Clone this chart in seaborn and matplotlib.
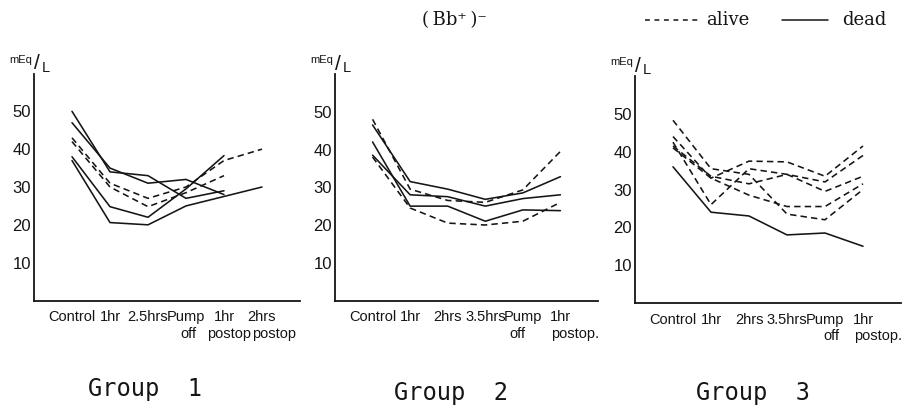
import numpy as np
import pandas as pd
import matplotlib
matplotlib.use("Agg")
import matplotlib.pyplot as plt
from matplotlib.lines import Line2D
import matplotlib.transforms as mtransforms
import seaborn as sns

# ---- time points on the x axis -------------------------------------------
g1_times = ["Control", "1hr", "2.5hrs", "Pump\noff", "1hr\npostop", "2hrs\npostop"]
g23_times = ["Control", "1hr", "2hrs", "3.5hrs", "Pump\noff", "1hr\npostop."]

# ---- (Bb+)- in mEq/L per patient ------------------------------------------
nan = np.nan
g1_dead_a = [50, 34, 33, 27, 29, nan]
g1_dead_b = [47, 35, 31, 32, 28, nan]
g1_dead_c = [38, 24.8, 22, 29.5, 38.3, nan]
g1_dead_d = [37, 20.6, 20, 25, 27.5, 30]
g1_alive_a = [43, 31, 27, 30, 37, 40]
g1_alive_b = [42, 30, 24.8, 28.5, 33, nan]

g2_dead_a = [46.5, 31.5, 29.5, 26.8, 28.5, 32.8]
g2_dead_b = [42, 25, 25, 21, 24, 23.8]
g2_dead_c = [38.5, 28, 27.5, 25, 27, 28]
g2_alive_a = [48, 29.5, 26.5, 26, 29.3, 39.5]
g2_alive_b = [38, 24.5, 20.5, 20, 21, 26]

g3_dead_a = [36, 24, 23, 18, 18.5, 15]
g3_alive_a = [48.3, 35.5, 34, 23.5, 22, 30]
g3_alive_b = [44, 33, 37.5, 37.3, 33.5, 41.5]
g3_alive_c = [42.5, 26, 35.5, 34, 32, 39]
g3_alive_d = [41.5, 33.5, 31.5, 34, 29.5, 33.5]
g3_alive_e = [41, 33, 28.5, 25.5, 25.5, 31.5]

y_ticks = [10, 20, 30, 40, 50]
group_titles = ["Group  1", "Group  2", "Group  3"]

groups = [
    (g1_times, {"d1": ("dead", g1_dead_a), "d2": ("dead", g1_dead_b),
                "d3": ("dead", g1_dead_c), "d4": ("dead", g1_dead_d),
                "a1": ("alive", g1_alive_a), "a2": ("alive", g1_alive_b)}),
    (g23_times, {"d1": ("dead", g2_dead_a), "d2": ("dead", g2_dead_b),
                 "d3": ("dead", g2_dead_c),
                 "a1": ("alive", g2_alive_a), "a2": ("alive", g2_alive_b)}),
    (g23_times, {"d1": ("dead", g3_dead_a),
                 "a1": ("alive", g3_alive_a), "a2": ("alive", g3_alive_b),
                 "a3": ("alive", g3_alive_c), "a4": ("alive", g3_alive_d),
                 "a5": ("alive", g3_alive_e)}),
]

sns.set_theme(style="white")
plt.rcParams["font.family"] = ["Liberation Sans", "DejaVu Sans"]

W, H = 905, 411
fig = plt.figure(figsize=(W / 100, H / 100), dpi=100)
fig.patch.set_facecolor("white")

def px_rect(left, top, right, bottom):
    return [left / W, 1 - bottom / H, (right - left) / W, (bottom - top) / H]

# axes boxes in pixels: (left, top, right, bottom)
boxes = [(34, 73.5, 300, 300.5), (335, 74, 598, 300.5), (635, 76, 901, 303)]
title_pos = [(145, 389), (451, 393), (753, 393)]
# hand-lettered tick labels sit a little off their ticks (pixels):
# first line, then second line of two-line labels
line1_nudges = [[-3, -2, 0, 1, -5, 0], [-11, -6, -9, -9, -2, -6], [-7, -6, -11, -2, 2, 0]]
line2_nudges = [[0, 0, 0, 2, 5, 12], [0, 0, 0, 0, -5, 15], [0, 0, 0, 0, 6, 15]]
ink = "#151515"
tick_fs = 10.5

for (times, series), box, gtitle, gpos, n1, n2 in zip(groups, boxes, group_titles,
                                                      title_pos, line1_nudges,
                                                      line2_nudges):
    ax = fig.add_axes(px_rect(*box))
    rows = []
    for pid, (outcome, vals) in series.items():
        for i, v in enumerate(vals):
            if not np.isnan(v):
                rows.append({"pos": i, "value": v, "patient": pid, "outcome": outcome})
    df = pd.DataFrame(rows)
    sns.lineplot(data=df, x="pos", y="value", units="patient", estimator=None,
                 style="outcome", dashes={"alive": (4, 2.6), "dead": ""},
                 color=ink, linewidth=1.15, legend=False, sort=False, ax=ax)
    ax.set_xlim(-1, 6)
    ax.set_ylim(0, 60)
    ax.set_xlabel("")
    ax.set_ylabel("")
    ax.set_facecolor("white")
    for s in ["top", "right"]:
        ax.spines[s].set_visible(False)
    for s in ["left", "bottom"]:
        ax.spines[s].set_linewidth(1.3)
        ax.spines[s].set_color(ink)

    first = [t.split("\n")[0] for t in times]
    second = [t.split("\n")[1] if "\n" in t else "" for t in times]
    ax.set_xticks(range(len(times)))
    ax.set_xticklabels(first, fontsize=tick_fs, color=ink)
    for lab, dx in zip(ax.get_xticklabels(), n1):
        shift = mtransforms.ScaledTranslation(dx / 100, 0, fig.dpi_scale_trans)
        lab.set_transform(lab.get_transform() + shift)
    for i, (word, dx) in enumerate(zip(second, n2)):
        if word:
            ax.annotate(word, xy=(i, 0), xycoords=("data", "axes fraction"),
                        xytext=(dx, -26), textcoords="offset pixels",
                        ha="center", va="top", fontsize=tick_fs, color=ink)

    ax.set_yticks(y_ticks)
    ax.set_yticklabels([str(t) for t in y_ticks], fontsize=12, color=ink)
    ax.tick_params(axis="x", direction="inout", length=6, width=1, color=ink, pad=4)
    ax.tick_params(axis="y", length=0, pad=2)

    # unit label above the y axis
    ax.annotate("mEq", xy=(0, 1), xycoords="axes fraction", xytext=(-13, 14),
                textcoords="offset pixels", ha="center", va="center",
                fontsize=8, color=ink)
    ax.annotate("/", xy=(0, 1), xycoords="axes fraction", xytext=(3, 10),
                textcoords="offset pixels", ha="center", va="center",
                fontsize=15, color=ink)
    ax.annotate("L", xy=(0, 1), xycoords="axes fraction", xytext=(12, 6),
                textcoords="offset pixels", ha="center", va="center",
                fontsize=10.5, color=ink)

    fig.text(gpos[0] / W, 1 - gpos[1] / H, gtitle, ha="center", va="center",
             fontsize=17, family="DejaVu Sans Mono", color=ink)

# heading and line key
fig.text(454 / W, 1 - 20 / H, "(\u2009Bb\u207a\u2009)\u207b", ha="center", va="center",
         fontsize=13, family="DejaVu Serif", color=ink)
fig.add_artist(Line2D([645 / W, 698 / W], [1 - 20 / H, 1 - 20 / H],
                      linestyle=(0, (3.2, 3.0)), linewidth=1.1, color=ink))
fig.text(706 / W, 1 - 20 / H, "alive", ha="left", va="center",
         fontsize=13, family="DejaVu Serif", color=ink)
fig.add_artist(Line2D([782 / W, 828 / W], [1 - 20 / H, 1 - 20 / H],
                      linestyle="-", linewidth=1.1, color=ink))
fig.text(842 / W, 1 - 20 / H, "dead", ha="left", va="center",
         fontsize=13, family="DejaVu Serif", color=ink)

fig.savefig("out.png", dpi=100, facecolor="white")
